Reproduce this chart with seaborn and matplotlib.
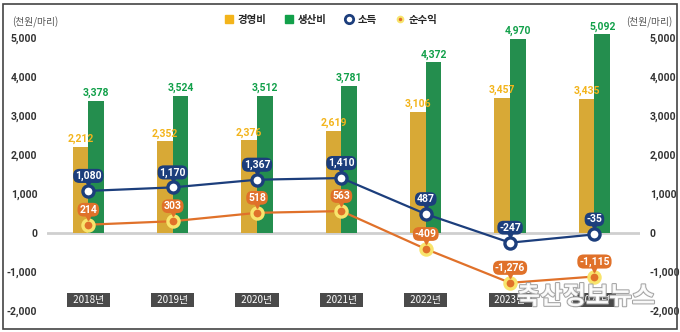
import numpy as np
import pandas as pd
import matplotlib
matplotlib.use("Agg")
import matplotlib.pyplot as plt
import seaborn as sns
from matplotlib.lines import Line2D
from matplotlib.patches import Rectangle
from matplotlib.transforms import offset_copy
import matplotlib.patheffects as pe

years = ["2018년", "2019년", "2020년", "2021년", "2022년", "2023년", "2024년"]
mgmt_cost = [2212, 2352, 2376, 2619, 3106, 3457, 3435]      # 경영비
prod_cost = [3378, 3524, 3512, 3781, 4372, 4970, 5092]      # 생산비
income = [1080, 1170, 1367, 1410, 487, -247, -35]           # 소득
net_profit = [214, 303, 518, 563, -409, -1276, -1115]       # 순수익
yticks = [-2000, -1000, 0, 1000, 2000, 3000, 4000, 5000]
unit_label = "(천원/마리)"

YEL = "#F3B41B"
GRN = "#12A04A"
NAVY = "#1C3E7C"
ORG = "#E0712A"
RING = "#F8E46C"

sns.set_style("white")
plt.rcParams["font.family"] = ["Noto Sans CJK KR", "DejaVu Sans"]
NUMF = ["Roboto", "DejaVu Sans"]

pos = np.arange(len(years))
df = pd.DataFrame({
    "pos": np.concatenate([pos, pos]),
    "item": ["경영비"] * len(years) + ["생산비"] * len(years),
    "value": mgmt_cost + prod_cost,
})

fig = plt.figure(figsize=(6.8, 3.32), dpi=100)
ax = fig.add_axes([47 / 680, 19 / 332, (640 - 47) / 680, (313 - 18.5) / 332])

sns.barplot(data=df, x="pos", y="value", hue="item", native_scale=True,
            palette={"경영비": YEL, "생산비": GRN}, width=0.37, linewidth=0,
            legend=False, ax=ax, zorder=2)

for cont, col in zip(ax.containers, [YEL, GRN]):
    ax.bar_label(cont, labels=[f"{v:,.0f}" for v in cont.datavalues], padding=2,
                 color=col, fontsize=7.5, fontweight="bold", family=NUMF)

ax.axhline(0, color="#cfcfcf", lw=2, zorder=1)

sns.lineplot(x=pos, y=income, color=NAVY, lw=1.6, marker="o", markersize=8,
             markerfacecolor="white", markeredgecolor=NAVY, markeredgewidth=2.4,
             ax=ax, zorder=4)
sns.lineplot(x=pos, y=net_profit, color=ORG, lw=1.6, marker="o", markersize=8,
             markerfacecolor=ORG, markeredgecolor=RING, markeredgewidth=2.4,
             ax=ax, zorder=4)

tri = offset_copy(ax.transData, fig=fig, x=0, y=8, units="dots")
for series, col in [(income, NAVY), (net_profit, ORG)]:
    for i, v in zip(pos, series):
        ax.annotate(f"{v:,}", xy=(i, v), xytext=(0, 15), textcoords="offset pixels",
                    ha="center", va="center", fontsize=7.5, fontweight="bold",
                    color="white", family=NUMF, zorder=6,
                    bbox=dict(boxstyle="round,pad=0.18,rounding_size=0.6", fc=col, ec="none"))
        ax.plot(i, v, marker="v", ms=4, color=col, transform=tri, zorder=5)

for i, y in zip(pos, years):
    ax.text(i, -1720, f"  {y}  ", ha="center", va="center", fontsize=7, color="white",
            zorder=6, bbox=dict(boxstyle="square,pad=0.2", fc="#4a4a4a", ec="none"))

ax.set_xlim(-0.49, 6.54)
ax.set_ylim(-2050, 5500)
ax.set_xticks([])
ax.set_xlabel("")
ax.set_ylabel("")
ax.set_yticks(yticks)
ax.set_yticklabels([f"{t:,}" for t in yticks], fontweight="bold", family=NUMF)
ax.tick_params(axis="y", length=0, pad=7, labelsize=7.5, labelcolor="#333333",
               labelleft=True, labelright=True)
for s in ax.spines.values():
    s.set_visible(False)

fig.text(12 / 680, 1 - 22 / 332, unit_label, fontsize=7, color="#555555", va="center")
fig.text(672 / 680, 1 - 22 / 332, unit_label, fontsize=7, color="#555555", va="center", ha="right")

handles = [
    Line2D([], [], ls="", marker="s", ms=6, color=YEL),
    Line2D([], [], ls="", marker="s", ms=6, color=GRN),
    Line2D([], [], ls="", marker="o", ms=6, mfc="white", mec=NAVY, mew=2),
    Line2D([], [], ls="", marker="o", ms=4, mfc=ORG, mec=RING, mew=1.5),
]
fig.legend(handles, ["경영비", "생산비", "소득", "순수익"], loc="center",
           bbox_to_anchor=(331 / 680, 1 - 20 / 332), ncol=4, frameon=False,
           handlelength=0.8, handletextpad=0.4, columnspacing=1.8,
           prop={"weight": "bold", "size": 7.5})

fig.text(586 / 680, 1 - 297 / 332, "축산정보뉴스", fontsize=18, fontweight="bold",
         color="white", alpha=0.9, ha="center", va="center", zorder=10,
         path_effects=[pe.withStroke(linewidth=1.5, foreground="#9a9a9a")])

fig.add_artist(Rectangle((3 / 680, 3 / 332), 674 / 680, 325 / 332, transform=fig.transFigure,
                         fill=False, edgecolor="#444444", lw=1.2))

fig.savefig("out.png", dpi=100)
